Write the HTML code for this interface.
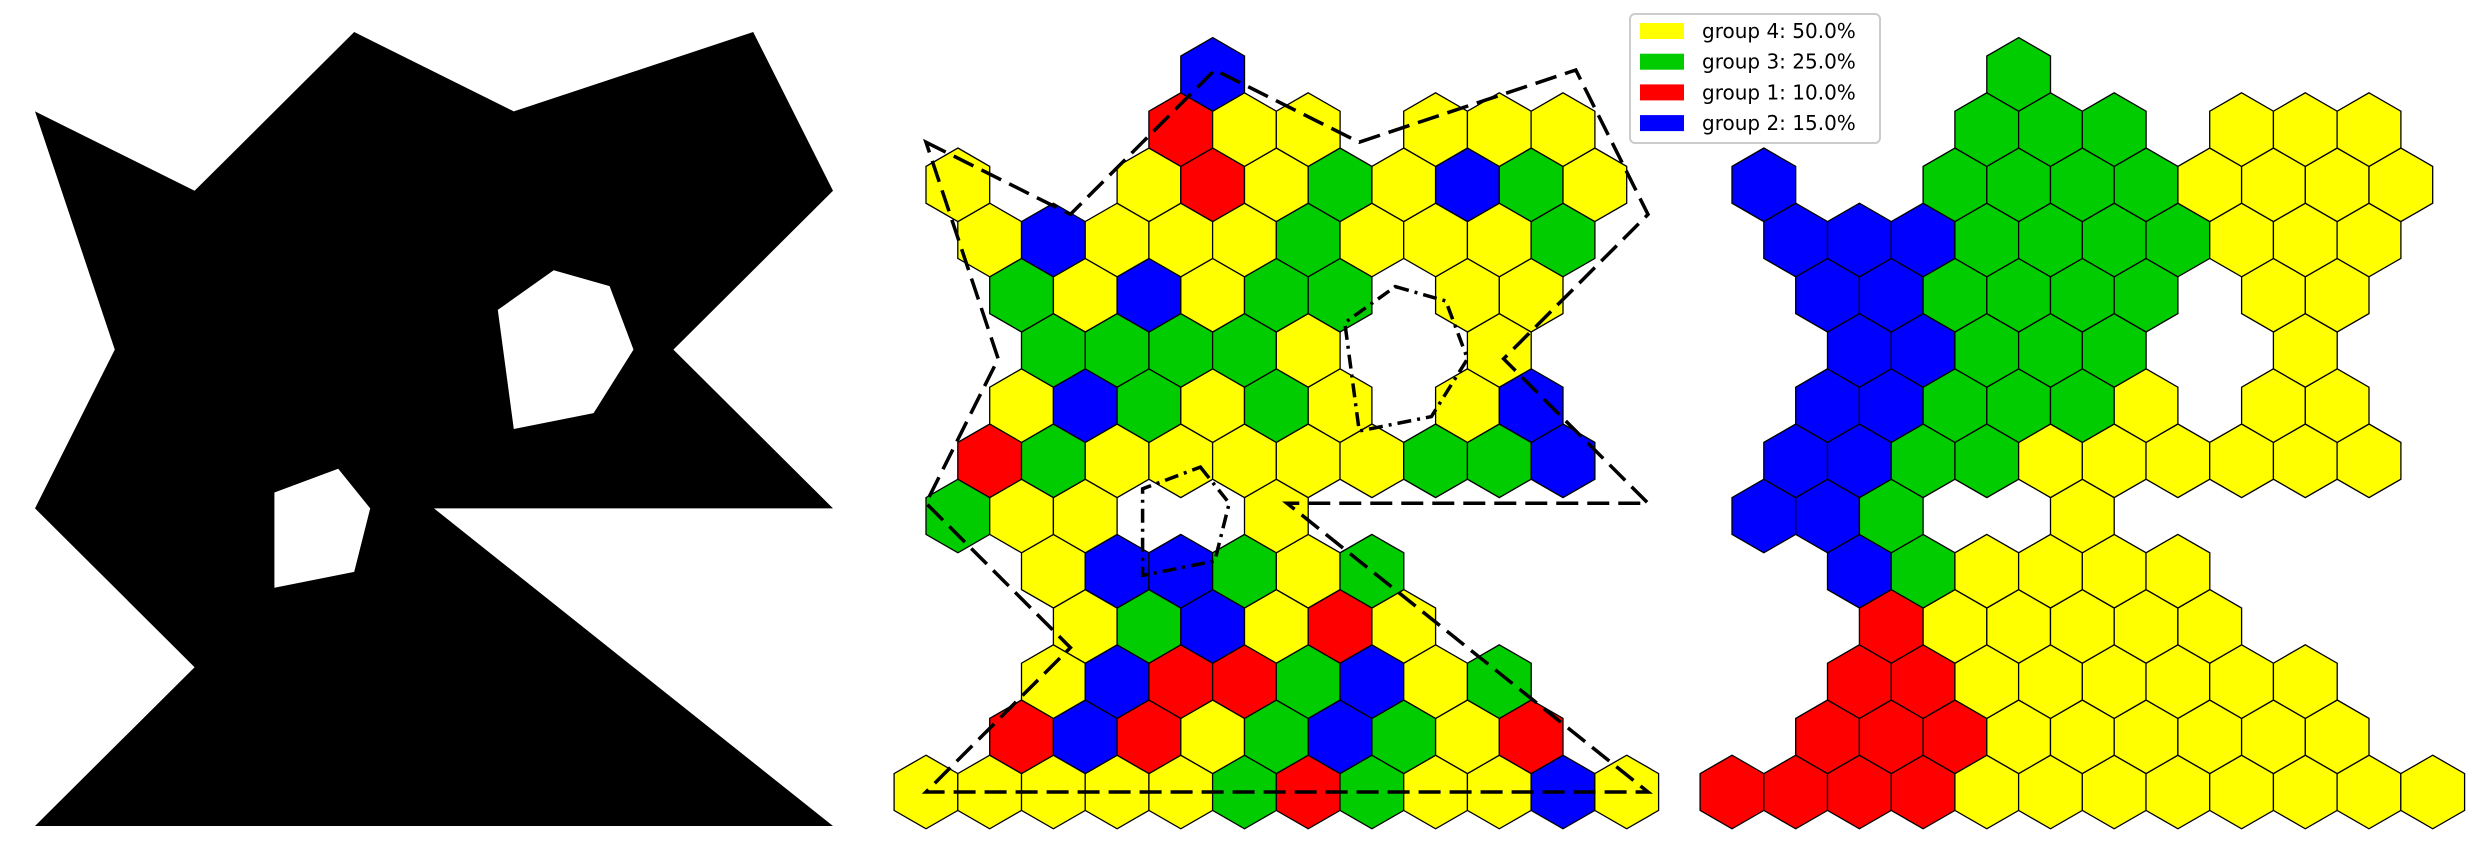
<!DOCTYPE html>
<html><head><meta charset="utf-8">
<style>
html,body{margin:0;padding:0;background:#fff;}
svg{display:block;}
text{font-family:"DejaVu Sans","Liberation Sans",sans-serif;}
</style></head>
<body>
<svg id="fig" width="2488" height="861" viewBox="0 0 2488 861" xmlns="http://www.w3.org/2000/svg">
  <rect width="2488" height="861" fill="#fff"/>
  <g id="left"></g>
  <g id="mid"></g>
  <g id="right"></g>
  <g id="legend">
    <rect x="1630" y="14" width="250" height="129" rx="5" fill="#fff" stroke="#cccccc" stroke-width="2"/>
  </g>
</svg>
<script>
// ---- data ----
const rowIndex = [0,1,2,3,4,5,6,7,8,9,10,11,12,13];
const rowCols = [
  [0,2,4,6,8,10,12,14,16,18,20,22],
  [3,5,7,9,11,13,15,17,19],
  [4,6,8,10,12,14,16,18],
  [5,7,9,11,13,15],
  [4,6,8,10,12,14],
  [1,3,5,11],
  [2,4,6,8,10,12,14,16,18,20],
  [3,5,7,9,11,13,17,19],
  [4,6,8,10,12,18],
  [3,5,7,9,11,13,17,19],
  [2,4,6,8,10,12,14,16,18,20],
  [1,7,9,11,13,15,17,19,21],
  [8,10,12,16,18,20],
  [9]
];
const midGroups = ["YYYYYGRGYYBY","RBRYGBGYR","YBRRGBYG","YGBYRY","YBBGYG","GYYY",
  "RGYYYYYGGB","YBGYGYYB","GGGGYY","GYBYGGYY","YBYYYGYYYG","YYRYGYBGY","RYYYYY","B"];
const rightGroups = ["RRRRYYYYYYYY","RRRYYYYYY","RRYYYYYY","RYYYYY","BGYYYY","BBGY",
  "BBGGYYYYYY","BBGGGYYY","BBGGGY","BBGGGGYY","BBBGGGGYYY","BGGGGYYYY","GGGYYY","G"];
const outerShape = [[0,0.1],[0.2,0.2],[0.4,0],[0.6,0.1],[0.9,0],[1,0.2],[0.8,0.4],[1,0.6],[0.5,0.6],[1,1],[0,1],[0.2,0.8],[0,0.6],[0.1,0.4]];
const hole1 = [[0.65,0.30],[0.72,0.32],[0.75,0.40],[0.70,0.48],[0.60,0.50],[0.58,0.35]];
const hole2 = [[0.38,0.55],[0.42,0.60],[0.40,0.68],[0.30,0.70],[0.30,0.58]];
const legendLabels = ["group 4: 50.0%","group 3: 25.0%","group 1: 10.0%","group 2: 15.0%"];
const legendKeys = ["Y","G","R","B"];

const colors = {Y:"#ffff00",G:"#00cc00",R:"#ff0000",B:"#0000ff"};
const NS = "http://www.w3.org/2000/svg";
const R = 36.8, HALF = 31.85, ROWH = 55.2, BASEY = 792;

function mk(tag, attrs, parent){
  const e = document.createElementNS(NS, tag);
  for (const k in attrs) e.setAttribute(k, attrs[k]);
  parent.appendChild(e);
  return e;
}
function hexPts(cx, cy){
  const p = [];
  for (let i=0;i<6;i++){ const a = (-90 + 60*i)*Math.PI/180; p.push((cx+R*Math.cos(a)).toFixed(1)+","+(cy+R*Math.sin(a)).toFixed(1)); }
  return p.join(" ");
}
function drawHexes(gId, x0, groups){
  const g = document.getElementById(gId);
  rowIndex.forEach((r, i) => {
    rowCols[i].forEach((k, j) => {
      const c = groups[i][j];
      const poly = mk("polygon", {points: hexPts(x0 + HALF*k, BASEY - ROWH*r), fill: colors[c], stroke: "#000", "stroke-width": 1.3}, g);
      
      
    });
  });
}
function polyPath(pts, ox, oy, sx, sy){
  return "M" + pts.map(p => (ox+p[0]*sx).toFixed(1)+","+(oy+p[1]*sy).toFixed(1)).join("L") + "Z";
}

// left panel: black shape with holes
const left = document.getElementById("left");
const shapePath = mk("path", {d: polyPath(outerShape,35,32,798,794)+polyPath(hole1,35,32,798,794)+polyPath(hole2,35,32,798,794), fill:"#000", "fill-rule":"evenodd"}, left);



// middle panel
drawHexes("mid", 926, midGroups);
const mid = document.getElementById("mid");
const outline = mk("path", {d: polyPath(outerShape,926,70,722,722), fill:"none", stroke:"#000", "stroke-width":3.5, "stroke-dasharray":"22,9"}, mid);


[hole1, hole2].forEach(h => {
  const hp = mk("path", {d: polyPath(h,926,70,722,722), fill:"none", stroke:"#000", "stroke-width":3.5, "stroke-dasharray":"14,6,3,6"}, mid);
  
  
});

// right panel
drawHexes("right", 1732, rightGroups);

// legend
const leg = document.getElementById("legend");
legendLabels.forEach((lab, i) => {
  const y = 31 + i*30.7;
  const sw = mk("rect", {x:1640, y:y-8, width:44, height:16, fill:colors[legendKeys[i]]}, leg);
  
  
  const t = mk("text", {x:1702, y:y+7, "font-size":20, fill:"#000"}, leg);
  t.textContent = lab;
  
  
});
</script>
</body></html>
